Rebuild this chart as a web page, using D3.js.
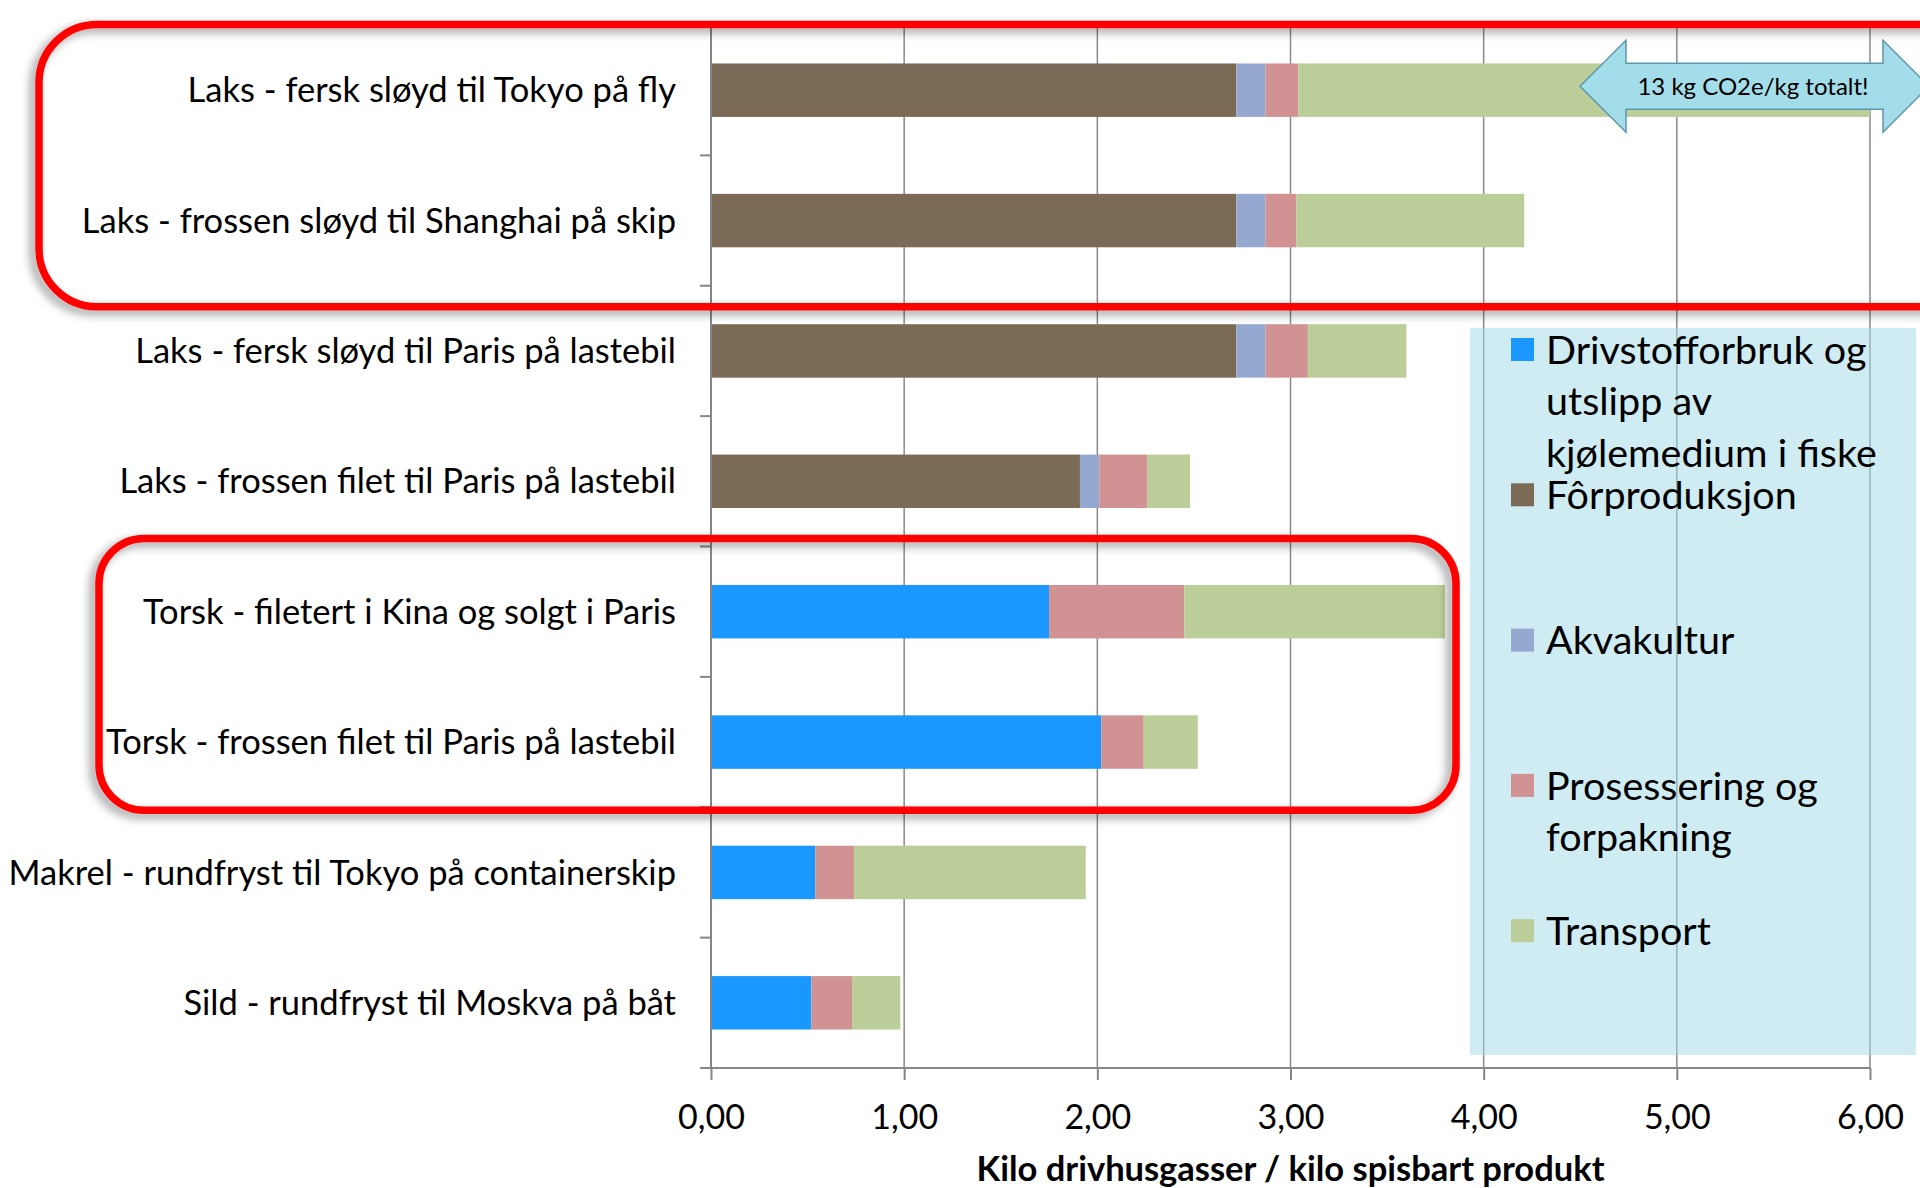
<!DOCTYPE html>
<html>
<head>
<meta charset="utf-8">
<script src="https://cdn.jsdelivr.net/npm/d3@7"></script>
<style>
  body { margin: 0; background: #fff; }
  svg { display: block; font-family: Lato, "Open Sans", sans-serif; }
</style>
</head>
<body>
<div id="chart"></div>
<script>
// categories, top to bottom
const categories = [
  "Laks - fersk sløyd til Tokyo på fly",
  "Laks - frossen sløyd til Shanghai på skip",
  "Laks - fersk sløyd til Paris på lastebil",
  "Laks - frossen filet til Paris på lastebil",
  "Torsk - filetert i Kina og solgt i Paris",
  "Torsk - frossen filet til Paris på lastebil",
  "Makrel - rundfryst til Tokyo på containerskip",
  "Sild - rundfryst til Moskva på båt",
];

// kg CO2e per kg edible product, per stage
const fuel = [0, 0, 0, 0, 1.75, 2.02, 0.54, 0.52];
const feed = [2.72, 2.72, 2.72, 1.91, 0, 0, 0, 0];
const aqua = [0.15, 0.15, 0.15, 0.10, 0, 0, 0, 0];
const processing = [0.17, 0.16, 0.22, 0.25, 0.70, 0.22, 0.20, 0.21];
const transport = [9.97, 1.18, 0.51, 0.22, 1.35, 0.28, 1.20, 0.25];

const seriesKeys = ["fuel", "feed", "aqua", "processing", "transport"];
const seriesColors = ["#1a98ff", "#7b6a55", "#95a9d0", "#d09292", "#bbce99"];
// legend order and wrapped lines as in the original
const legendKeys = ["fuel", "feed", "aqua", "processing", "transport"];
const legendLabels = [
  ["Drivstofforbruk og", "utslipp av", "kjølemedium i fiske"],
  ["Fôrproduksjon"],
  ["Akvakultur"],
  ["Prosessering og", "forpakning"],
  ["Transport"],
];

const xTicks = [0, 1, 2, 3, 4, 5, 6];
const xTitle = "Kilo drivhusgasser / kilo spisbart produkt";
const calloutText = "13 kg CO2e/kg totalt!";

const width = 1920, height = 1188;
const plot = { left: 711, right: 1870, top: 25, bottom: 1068 };

const rows = categories.map((c, i) => ({
  category: c,
  fuel: fuel[i],
  feed: feed[i],
  aqua: aqua[i],
  processing: processing[i],
  transport: transport[i],
}));

const x = d3.scaleLinear().domain([0, 6]).range([plot.left, plot.right]).clamp(true);
const y = d3.scaleBand()
  .domain(categories)
  .range([plot.top, plot.bottom])
  .paddingInner(0.59)
  .paddingOuter(0.295);
const color = d3.scaleOrdinal().domain(seriesKeys).range(seriesColors);

const stacked = d3.stack().keys(seriesKeys)(rows);

const svg = d3.select("#chart")
  .append("svg")
  .attr("width", width)
  .attr("height", height);

const defs = svg.append("defs");
defs.append("filter")
  .attr("id", "shadow")
  .attr("x", "-10%").attr("y", "-20%")
  .attr("width", "120%").attr("height", "140%")
  .append("feDropShadow")
  .attr("dx", -5)
  .attr("dy", 4)
  .attr("stdDeviation", 5)
  .attr("flood-color", "#000")
  .attr("flood-opacity", 0.4);

// gridlines
svg.append("g")
  .attr("class", "grid")
  .selectAll("line")
  .data(xTicks.filter((d) => d > 0))
  .join("line")
  .attr("x1", (d) => x(d))
  .attr("x2", (d) => x(d))
  .attr("y1", plot.top)
  .attr("y2", plot.bottom)
  .attr("stroke", "#8a8a8a")
  .attr("stroke-width", 1.5);

// bars
svg.append("g")
  .attr("class", "bars")
  .selectAll("g")
  .data(stacked)
  .join("g")
  .attr("fill", (s) => color(s.key))
  .selectAll("rect")
  .data((s) => s.filter((d) => d[1] - d[0] > 0))
  .join("rect")
  .attr("x", (d) => x(d[0]))
  .attr("y", (d) => y(d.data.category))
  .attr("width", (d) => x(d[1]) - x(d[0]))
  .attr("height", y.bandwidth());

// y axis: line, boundary ticks, labels
const yAxis = svg.append("g").attr("class", "y-axis");
yAxis.append("line")
  .attr("x1", plot.left).attr("x2", plot.left)
  .attr("y1", plot.top).attr("y2", plot.bottom)
  .attr("stroke", "#868686").attr("stroke-width", 2);
yAxis.selectAll("line.tick")
  .data(d3.range(categories.length + 1))
  .join("line")
  .attr("class", "tick")
  .attr("x1", plot.left - 11).attr("x2", plot.left)
  .attr("y1", (i) => plot.top + i * y.step())
  .attr("y2", (i) => plot.top + i * y.step())
  .attr("stroke", "#868686").attr("stroke-width", 2);
yAxis.selectAll("text")
  .data(categories)
  .join("text")
  .attr("x", plot.left - 35)
  .attr("y", (d) => y(d) + y.bandwidth() / 2)
  .attr("dy", "0.35em")
  .attr("text-anchor", "end")
  .attr("font-size", 34.5)
  .attr("fill", "#000")
  .text((d) => d);

// x axis
const xAxis = svg.append("g")
  .attr("class", "x-axis")
  .attr("transform", `translate(0,${plot.bottom})`)
  .call(
    d3.axisBottom(x)
      .tickValues(xTicks)
      .tickSize(12)
      .tickSizeOuter(0)
      .tickFormat((d) => d3.format(".2f")(d).replace(".", ","))
  );
xAxis.select(".domain")
  .attr("d", `M${plot.left},0H${plot.right}`)
  .attr("stroke", "#868686").attr("stroke-width", 2);
xAxis.selectAll(".tick line").attr("stroke", "#868686").attr("stroke-width", 2);
xAxis.selectAll(".tick text")
  .attr("y", 49)
  .attr("dy", "0.35em")
  .attr("font-size", 34)
  .attr("font-family", "Lato, 'Open Sans', sans-serif")
  .attr("fill", "#000");

svg.append("text")
  .attr("x", (plot.left + plot.right) / 2)
  .attr("y", 1181)
  .attr("text-anchor", "middle")
  .attr("font-size", 34.5)
  .attr("font-weight", "bold")
  .attr("fill", "#000")
  .text(xTitle);

// legend
const legend = svg.append("g").attr("class", "legend");
legend.append("rect")
  .attr("x", 1470).attr("y", 328)
  .attr("width", 446).attr("height", 727)
  .attr("fill", "rgb(160,218,230)")
  .attr("fill-opacity", 0.5);

const legendItem = legend.selectAll("g.item")
  .data(legendKeys)
  .join("g")
  .attr("class", "item")
  .attr("transform", (d, i) => `translate(1511,${350 + i * 145.3})`);
legendItem.append("rect")
  .attr("x", 0).attr("y", -12)
  .attr("width", 23).attr("height", 23)
  .attr("fill", (d) => color(d));
legendItem.append("text")
  .attr("font-size", 39.5)
  .attr("fill", "#000")
  .selectAll("tspan")
  .data((d, i) => legendLabels[i])
  .join("tspan")
  .attr("x", 35)
  .attr("y", (d, j) => j * 51.5)
  .attr("dy", "0.35em")
  .text((d) => d);

// red highlight boxes
const boxes = [
  { from: 0, to: 1, left: 39, right: 1990, padTop: -0.5, padBottom: 21, r: 58 },
  { from: 4, to: 5, left: 99, right: 1456, padTop: -8, padBottom: 3, r: 45 },
];
svg.append("g")
  .attr("class", "highlights")
  .selectAll("rect")
  .data(boxes)
  .join("rect")
  .attr("x", (b) => b.left)
  .attr("y", (b) => plot.top + b.from * y.step() + b.padTop)
  .attr("width", (b) => b.right - b.left)
  .attr("height", (b) => (b.to - b.from + 1) * y.step() + b.padBottom - b.padTop)
  .attr("rx", (b) => b.r)
  .attr("fill", "none")
  .attr("stroke", "#ff0000")
  .attr("stroke-width", 7.5)
  .attr("filter", "url(#shadow)");

// double arrow callout on the first bar
const cy = y(categories[0]) + y.bandwidth() / 2 - 4;
const arrow = svg.append("g").attr("class", "callout");
const ax0 = 1580, ax1 = 1626, ax2 = 1883, ax3 = 1929;
arrow.append("path")
  .attr("d", [
    `M${ax0},${cy}`,
    `L${ax1},${cy - 46}`, `L${ax1},${cy - 23}`, `L${ax2},${cy - 23}`, `L${ax2},${cy - 46}`,
    `L${ax3},${cy}`,
    `L${ax2},${cy + 46}`, `L${ax2},${cy + 23}`, `L${ax1},${cy + 23}`, `L${ax1},${cy + 46}`,
    "Z",
  ].join(""))
  .attr("fill", "#a3dde9")
  .attr("stroke", "#5e97aa")
  .attr("stroke-width", 1.5);
arrow.append("text")
  .attr("x", 1753)
  .attr("y", cy)
  .attr("dy", "0.35em")
  .attr("text-anchor", "middle")
  .attr("font-size", 24)
  .attr("fill", "#000")
  .text(calloutText);
</script>
</body>
</html>
